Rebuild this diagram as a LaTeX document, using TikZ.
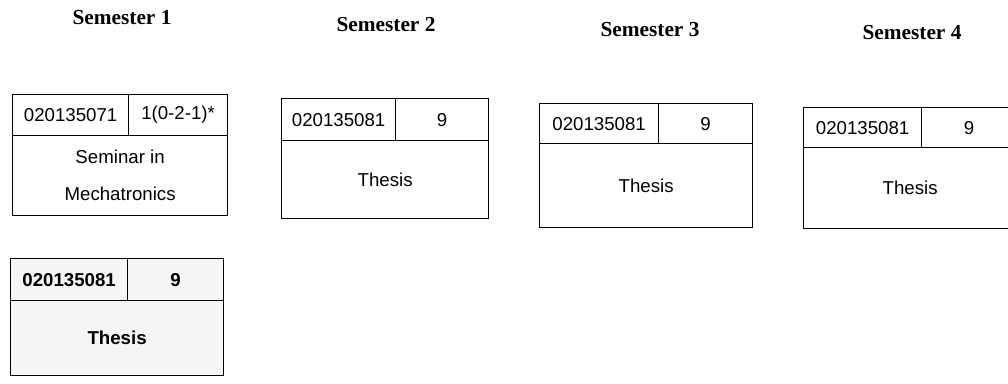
\documentclass[tikz,border=0pt]{standalone}
\usepackage{fontspec}
\setmainfont{Liberation Serif}
\newfontfamily\boxfont{Liberation Sans}
\begin{document}
\begin{tikzpicture}[x=0.75pt,y=-0.75pt,
  cell/.style={draw=black,line width=0.9pt,inner sep=0pt,anchor=north west,
    font=\boxfont\fontsize{14}{27}\selectfont,align=center},
  shaded/.style={fill=black!4,font=\boxfont\bfseries\fontsize{14}{27}\selectfont},
  semtitle/.style={font=\bfseries\fontsize{16}{19}\selectfont}]
\useasboundingbox (0,0) rectangle (1008,383);
\clip (0,0) rectangle (1008,383);
% titles
\node[semtitle] (s1) at (122,18) {Semester 1};
\node[semtitle] (s2) at (386,25) {Semester 2};
\node[semtitle] (s3) at (650,30) {Semester 3};
\node[semtitle] (s4) at (912,33) {Semester 4};
% box 1
\node[cell,minimum width={(128-12)*0.75pt},minimum height={(135-94)*0.75pt}] (c1) at (12,94) {020135071};
\node[cell,minimum width={(227-128)*0.75pt},minimum height={(135-94)*0.75pt}] (k1) at (128,94) {1(0-2-1)*};
\node[cell,minimum width={(227-12)*0.75pt},minimum height={(215-135)*0.75pt}] (t1) at (12,135) {Seminar in\\[1pt]Mechatronics};
% box 2
\node[cell,minimum width={(395-281)*0.75pt},minimum height={(140-98)*0.75pt}] (c2) at (281,98) {020135081};
\node[cell,minimum width={(488-395)*0.75pt},minimum height={(140-98)*0.75pt}] (k2) at (395,98) {9};
\node[cell,minimum width={(488-281)*0.75pt},minimum height={(218-140)*0.75pt}] (t2) at (281,140) {Thesis};
% box 3
\node[cell,minimum width={(658-539)*0.75pt},minimum height={(143-103)*0.75pt}] (c3) at (539,103) {020135081};
\node[cell,minimum width={(752-658)*0.75pt},minimum height={(143-103)*0.75pt}] (k3) at (658,103) {9};
\node[cell,minimum width={(752-539)*0.75pt},minimum height={(227-143)*0.75pt}] (t3) at (539,143) {Thesis};
% box 4 (cut off at the right edge)
\node[cell,minimum width={(921-803)*0.75pt},minimum height={(147-107)*0.75pt}] (c4) at (803,107) {020135081};
\node[cell,minimum width={(1016-921)*0.75pt},minimum height={(147-107)*0.75pt}] (k4) at (921,107) {9};
\node[cell,minimum width={(1016-803)*0.75pt},minimum height={(228-147)*0.75pt}] (t4) at (803,147) {Thesis};
% box 5
\node[cell,shaded,minimum width={(127-10)*0.75pt},minimum height={(300-258)*0.75pt}] (c5) at (10,258) {020135081};
\node[cell,shaded,minimum width={(223-127)*0.75pt},minimum height={(300-258)*0.75pt}] (k5) at (127,258) {9};
\node[cell,shaded,minimum width={(223-10)*0.75pt},minimum height={(375-300)*0.75pt}] (t5) at (10,300) {Thesis};
\end{tikzpicture}
\end{document}
